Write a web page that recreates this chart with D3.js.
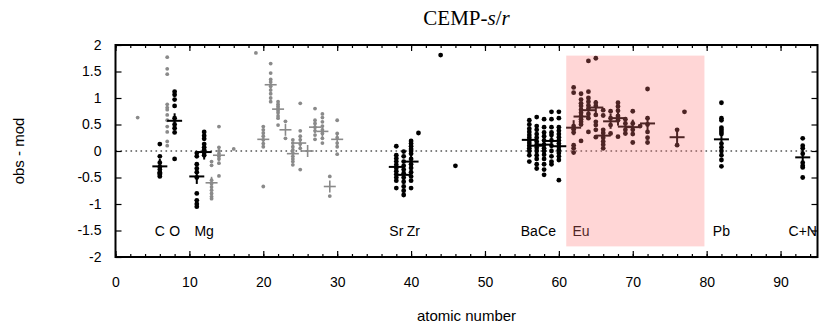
<!DOCTYPE html>
<html><head><meta charset="utf-8">
<script src="https://cdn.jsdelivr.net/npm/d3@7"></script>
<style>
body{margin:0;background:#fff}
svg text{font-family:"Liberation Sans",Arial,Helvetica,sans-serif}
</style>
</head><body>
<svg id="chart" width="823" height="327"></svg>
<script>
// ---------------- data ----------------
const xTicks = [0, 10, 20, 30, 40, 50, 60, 70, 80, 90];
const xMinorTicks = d3.range(0, 96, 2);
const yTicks = [-2, -1.5, -1, -0.5, 0, 0.5, 1, 1.5, 2];
const xDomain = [0, 95];
const yDomain = [-2, 2];

// highlighted band (atomic number range, value range)
const bandZ = [61, 79.7];
const bandV = [-1.8, 1.8];

// black (main) elements
const blackZ = [6, 8, 11, 12, 38, 39, 40, 41, 44, 46, 56, 57, 58, 59, 60,
                62, 63, 64, 65, 66, 67, 68, 69, 70, 71, 72, 76, 77, 82, 93];
const blackVals = [
  [0.13, -0.1, -0.22, -0.3, -0.35, -0.4, -0.42, -0.45, -0.48],            // C
  [1.12, 1.06, 0.97, 0.85, 0.62, 0.5, 0.43, 0.35, -0.15],                 // O
  [-0.04, -0.1, -0.25, -0.33, -0.4, -0.5, -0.8, -0.93, -1.0, -1.05],      // Na
  [0.36, 0.29, 0.23, 0.13, 0.07, 0.02, -0.03, -0.08],                     // Mg
  [0.09, -0.08, -0.14, -0.2, -0.26, -0.32, -0.38, -0.44, -0.5, -0.56, -0.7], // Sr
  [-0.01, -0.1, -0.2, -0.28, -0.35, -0.42, -0.5, -0.58, -0.67, -0.75, -0.83], // Y
  [0.19, 0.14, 0.09, 0.04, 0.0, -0.05, -0.15, -0.25, -0.32, -0.4, -0.48, -0.56, -0.7], // Zr
  [0.34],                                                                  // Nb
  [1.81],                                                                  // Ru
  [-0.28],                                                                 // Pd
  [0.58, 0.5, 0.42, 0.36, 0.3, 0.25, 0.2, 0.15, 0.1, 0.05, 0.0, -0.08, -0.2], // Ba
  [0.64, 0.47, 0.4, 0.32, 0.25, 0.18, 0.12, 0.06, 0.0, -0.08, -0.15, -0.25, -0.33], // La
  [0.6, 0.45, 0.35, 0.28, 0.2, 0.12, 0.05, 0.0, -0.07, -0.15, -0.25, -0.35, -0.45], // Ce
  [0.74, 0.6, 0.45, 0.35, 0.3, 0.2, 0.1, 0.0, -0.1, -0.2, -0.25],         // Pr
  [0.74, 0.62, 0.45, 0.38, 0.32, 0.26, 0.2, 0.14, 0.08, 0.02, -0.04, -0.1, -0.17, -0.55], // Nd
  [1.2, 1.1, 0.47, 0.41, 0.35, 0.11, 0.05, -0.03],                        // Sm
  [1.08, 0.97, 0.9, 0.85, 0.78, 0.72, 0.66, 0.6, 0.55, 0.5, 0.19],        // Eu
  [1.7, 1.12, 1.0, 0.93, 0.86, 0.8, 0.7, 0.62, 0.36],                     // Gd
  [1.75, 0.91, 0.85, 0.68, 0.55, 0.49, 0.4, 0.26],                        // Tb
  [0.77, 0.67, 0.4, 0.34, 0.25, 0.18, 0.12, 0.05],                        // Dy
  [0.75, 0.62, 0.49, 0.33],                                                // Ho
  [0.91, 0.84, 0.76, 0.66, 0.58, 0.27],                                    // Er
  [0.6, 0.52, 0.4, 0.33],                                                  // Tm
  [0.75, 0.52, 0.4, 0.32, 0.16],                                           // Yb
  [0.47],                                                                  // Lu
  [1.17, 0.62, 0.5, 0.36, 0.25, 0.16],                                     // Hf
  [0.4, 0.11],                                                             // Os
  [0.74],                                                                  // Ir
  [0.91, 0.62, 0.58, 0.44, 0.4, 0.36, 0.32, 0.14, 0.07, 0.0, -0.08, -0.17, -0.29], // Pb
  [0.24, 0.1, 0.05, -0.05, -0.22, -0.28, -0.31, -0.5]                     // C+N
];
const blackMeans = [-0.29, 0.57, -0.48, -0.02, -0.3, -0.45, -0.2, null, null, null,
                    0.21, 0.1, 0.12, 0.19, 0.09,
                    0.44, 0.65, 0.77, 0.82, 0.29, 0.56, 0.62, 0.46, 0.45, null, 0.52, 0.26, null,
                    0.22, -0.12];

// gray (other) elements
const grayZ = [3, 7, 13, 14, 16, 19, 20, 21, 22, 23, 24, 25, 26, 27, 28, 29, 30];
const grayVals = [
  [0.63],                                                                  // Li
  [1.77, 1.55, 1.45, 0.88, 0.82, 0.78, 0.68, 0.58, 0.46, 0.36, 0.18, 0.1], // N
  [-0.2, -0.27, -0.55, -0.62, -0.68, -0.74, -0.8, -0.86, -0.9],           // Al
  [0.46, 0.07, 0.0, -0.05, -0.1, -0.15, -0.23, -0.47],                    // Si
  [0.04],                                                                  // S
  [1.85],                                                                  // K
  [0.46, 0.4, 0.34, 0.28, 0.21, 0.14, 0.08, -0.67],                       // Ca
  [1.65, 1.47, 1.35, 1.3, 1.22, 1.15, 1.08, 1.0, 0.93],                   // Sc
  [0.93, 0.88, 0.84, 0.8, 0.76, 0.72, 0.66, 0.62, 0.49],                  // Ti
  [0.56, 0.24],                                                            // V
  [0.21, 0.15, 0.08, 0.02, -0.04, -0.1, -0.15, -0.2, -0.26],              // Cr
  [0.9, 0.38, 0.28, 0.21, 0.13, 0.05, -0.35],                             // Mn
  [],                                                                      // Fe
  [0.8, 0.58, 0.52, 0.45, 0.38, 0.3, 0.22],                               // Co
  [0.7, 0.63, 0.55, 0.47, 0.4, 0.33, 0.24, 0.15],                         // Ni
  [-0.48, -0.85],                                                          // Cu
  [0.58, 0.33, 0.25, 0.15, 0.08, -0.06]                                   // Zn
];
const grayMeans = [null, null, -0.6, -0.08, null, null, 0.22, 1.25, 0.79, 0.4, -0.05, 0.15, 0.0, 0.45, 0.37, -0.67, 0.22];

// element labels
const labelText = ["C", "O", "Mg", "Sr", "Zr", "Ba", "Ce", "Eu", "Pb", "C+N"];
const labelZ = [6, 8, 12, 38, 40.3, 56, 58.4, 63, 82, 93];
const labelV = -1.5;

// ---------------- drawing ----------------
const svg = d3.select("#chart");
const L = 115.5, R = 817.5, T = 45, B = 257;
const x = d3.scaleLinear().domain(xDomain).range([L, R]);
const y = d3.scaleLinear().domain(yDomain).range([B, T]);

const BLACK = "#000", GRAY = "#8a8a8a";

// zero line
svg.append("line")
  .attr("x1", x(xDomain[0])).attr("x2", x(xDomain[1]))
  .attr("y1", y(0)).attr("y2", y(0))
  .attr("stroke", "#555").attr("stroke-width", 1.3)
  .attr("stroke-dasharray", "1.6,3.4");

function flat(zs, vals) {
  const out = [];
  zs.forEach((z, i) => vals[i].forEach(v => out.push({z, v})));
  return out;
}
function means(zs, ms) {
  return zs.map((z, i) => ({z, v: ms[i]})).filter(d => d.v !== null);
}

// gray points
svg.append("g").selectAll("circle").data(flat(grayZ, grayVals)).join("circle")
  .attr("cx", d => x(d.z)).attr("cy", d => y(d.v)).attr("r", 1.9).attr("fill", GRAY);
// gray crosses
const gc = svg.append("g").attr("stroke", GRAY).attr("stroke-width", 1.6);
means(grayZ, grayMeans).forEach(d => {
  gc.append("line").attr("x1", x(d.z) - 6).attr("x2", x(d.z) + 6).attr("y1", y(d.v)).attr("y2", y(d.v));
  gc.append("line").attr("x1", x(d.z)).attr("x2", x(d.z)).attr("y1", y(d.v) - 6).attr("y2", y(d.v) + 6);
});

// black points
svg.append("g").selectAll("circle").data(flat(blackZ, blackVals)).join("circle")
  .attr("cx", d => x(d.z)).attr("cy", d => y(d.v)).attr("r", 2.4).attr("fill", BLACK);
// black crosses
const bc = svg.append("g").attr("stroke", BLACK).attr("stroke-width", 2);
means(blackZ, blackMeans).forEach(d => {
  bc.append("line").attr("x1", x(d.z) - 7.5).attr("x2", x(d.z) + 7.5).attr("y1", y(d.v)).attr("y2", y(d.v));
  bc.append("line").attr("x1", x(d.z)).attr("x2", x(d.z)).attr("y1", y(d.v) - 7.5).attr("y2", y(d.v) + 7.5);
});

// element labels
svg.append("g").selectAll("text").data(labelText).join("text")
  .attr("x", (d, i) => x(labelZ[i])).attr("y", y(labelV))
  .attr("dy", "0.36em").attr("text-anchor", "middle")
  .attr("font-size", 14).attr("fill", "#000").text(d => d);

// highlight band (translucent overlay)
svg.append("rect")
  .attr("x", x(bandZ[0])).attr("width", x(bandZ[1]) - x(bandZ[0]))
  .attr("y", y(bandV[1])).attr("height", y(bandV[0]) - y(bandV[1]))
  .attr("fill", "#ff7777").attr("fill-opacity", 0.3);

// axes
const fmt = d => String(d);
const axB = svg.append("g").attr("transform", `translate(0,${B})`)
  .call(d3.axisBottom(x).tickValues(xTicks).tickSize(-6).tickPadding(20).tickFormat(fmt));
const axT = svg.append("g").attr("transform", `translate(0,${T})`)
  .call(d3.axisTop(x).tickValues(xTicks).tickSize(-6).tickFormat(""));
const axBm = svg.append("g").attr("transform", `translate(0,${B})`)
  .call(d3.axisBottom(x).tickValues(xMinorTicks).tickSize(-3).tickFormat(""));
const axTm = svg.append("g").attr("transform", `translate(0,${T})`)
  .call(d3.axisTop(x).tickValues(xMinorTicks).tickSize(-3).tickFormat(""));
const axL = svg.append("g").attr("transform", `translate(${L},0)`)
  .call(d3.axisLeft(y).tickValues(yTicks).tickSize(-6).tickPadding(14).tickFormat(fmt));
const axR = svg.append("g").attr("transform", `translate(${R},0)`)
  .call(d3.axisRight(y).tickValues(yTicks).tickSize(-6).tickFormat(""));
[axB, axT, axBm, axTm, axL, axR].forEach(g => {
  g.select(".domain").remove();
  g.selectAll(".tick line").attr("stroke", "#000").attr("stroke-width", 1.2);
  g.selectAll("text").attr("font-size", 14).attr("fill", "#000")
    .attr("font-family", '"Liberation Sans",Arial,sans-serif');
});

// frame
svg.append("rect").attr("x", L).attr("y", T).attr("width", R - L).attr("height", B - T)
  .attr("fill", "none").attr("stroke", "#000").attr("stroke-width", 2);

// axis titles
svg.append("text").attr("x", (L + R) / 2).attr("y", 321).attr("text-anchor", "middle")
  .attr("font-size", 15).text("atomic number");
svg.append("text").attr("transform", `translate(24,${(T + B) / 2}) rotate(-90)`)
  .attr("text-anchor", "middle").attr("font-size", 15).text("obs - mod");

// title
const title = svg.append("text").attr("x", (L + R) / 2).attr("y", 25).attr("text-anchor", "middle")
  .attr("font-size", 21).style("font-family", '"Liberation Serif","DejaVu Serif",serif');
title.append("tspan").text("CEMP-");
title.append("tspan").attr("font-style", "italic").text("s");
title.append("tspan").text("/");
title.append("tspan").attr("font-style", "italic").text("r");
</script>
</body></html>
